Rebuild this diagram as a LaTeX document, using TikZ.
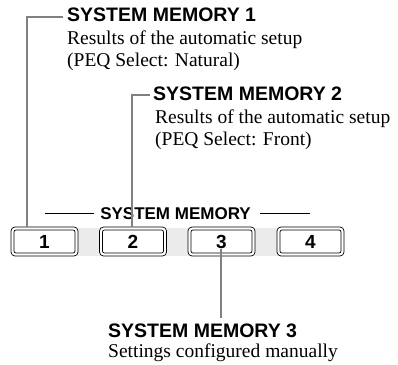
\documentclass[tikz,border=0pt]{standalone}
\usepackage{fontspec}
\setmainfont{Liberation Serif}
\newfontfamily\hv{Liberation Sans}
\begin{document}
\begin{tikzpicture}[x=1pt,y=-1pt,
  lead/.style={draw=black!50,line width=2pt},
  ttl/.style={anchor=base west,inner sep=0pt,font=\hv\bfseries\fontsize{19.5}{22}\selectfont},
  dsc/.style={anchor=base west,inner sep=0pt,font=\fontsize{19.5}{22}\selectfont},
  btn/.style={draw=black,line width=0.7pt,rounded corners=4pt,fill=white,minimum width=67pt,minimum height=29pt,inner sep=0pt},
  inr/.style={draw=black,line width=0.7pt,rounded corners=2pt,minimum width=61pt,minimum height=23pt,inner sep=0pt,font=\hv\bfseries\fontsize{19}{20}\selectfont}
]
\useasboundingbox (0,0) rectangle (398,364);
% strip behind buttons
\fill[black!8] (14,228) rectangle (341,256);
% buttons
\foreach \i/\x in {1/44.5,2/133,3/221.5,4/310.5}{
  \node[btn] (b\i) at (\x,241.5) {};
  \node[inr] (n\i) at (\x,241.5) {\raisebox{-1pt}{\i}};
}
% group label
\node[inner sep=0pt,font=\hv\bfseries\fontsize{17}{20}\selectfont] (grp) at (175.5,213.5) {SYSTEM MEMORY};
\coordinate (gl1) at (45,213);
\coordinate (gr1) at (310,213);
\draw[line width=0.8pt] (gl1) -- ([xshift=-6pt]grp.west |- gl1);
\draw[line width=0.8pt] ([xshift=9pt]grp.east |- gr1) -- (gr1);
% memory 1
\node[ttl] (t1) at (67,21) {SYSTEM MEMORY 1};
\node[dsc] (d1a) at (67,44) {Results of the automatic setup};
\node[dsc] (d1b) at (67,66) {(PEQ Select: Natural)};
\coordinate (c1) at (27,17);
\draw[lead] (t1.west |- c1) ++(-4pt,0) -- (c1) -- (c1 |- b1.north);
% memory 2
\node[ttl] (t2) at (153,100) {SYSTEM MEMORY 2};
\node[dsc] (d2a) at (155,123) {Results of the automatic setup};
\node[dsc] (d2b) at (155,145) {(PEQ Select: Front)};
\coordinate (c2) at (132,95);
\draw[lead] (t2.west |- c2) ++(-3pt,0) -- (c2) -- (c2 |- b2.north);
% memory 3
\node[ttl] (t3) at (108,337) {SYSTEM MEMORY 3};
\node[dsc] (d3a) at (108,357) {Settings configured manually};
\coordinate (c3) at (221,249);
\coordinate (e3) at (221,318);
\draw[lead] (c3) -- (e3);
\end{tikzpicture}
\end{document}
